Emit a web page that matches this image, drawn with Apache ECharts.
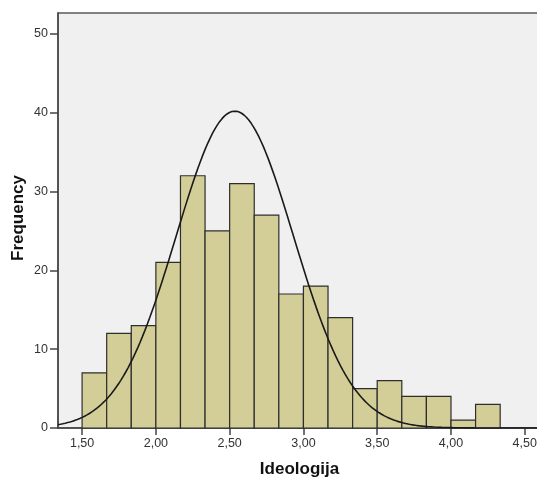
<!DOCTYPE html>
<html>
<head>
<meta charset="utf-8">
<script src="https://cdn.jsdelivr.net/npm/echarts@6/dist/echarts.min.js"></script>
<style>
  html, body { margin: 0; padding: 0; background: #ffffff; }
  #chart { width: 537px; height: 482px; }
</style>
</head>
<body>
<div id="chart"></div>
<script>
// Histogram of Ideologija scores (bin width 1/6, first bin starts at 1,50)
const binStart = 1.5;
const binWidth = 1 / 6;
const counts = [7, 12, 13, 21, 32, 25, 31, 27, 17, 18, 14, 5, 6, 4, 4, 1, 3];

// Fitted normal curve parameters
const fitMean = 2.535;
const fitSd = 0.397;
const sampleN = 240;

// Axis ticks
const xTicks = [1.5, 2.0, 2.5, 3.0, 3.5, 4.0, 4.5];
const yTicks = [0, 10, 20, 30, 40, 50];

const xMin = 1.3367;
const xMax = 4.61;
const yMax = 52.65;

const bars = counts.map((c, i) => [binStart + i * binWidth, binStart + (i + 1) * binWidth, c]);

// normal density scaled to the histogram's frequency axis
const curve = [];
const steps = 200;
for (let k = 0; k <= steps; k++) {
  const x = xMin + (xMax - xMin) * k / steps;
  const z = (x - fitMean) / fitSd;
  const y = sampleN * binWidth * Math.exp(-0.5 * z * z) / (fitSd * Math.sqrt(2 * Math.PI));
  curve.push([x, y]);
}

const fmt = v => v.toFixed(2).replace('.', ',');
const font = '"Liberation Sans", Arial, sans-serif';

const chart = echarts.init(document.getElementById('chart'), null, { renderer: 'canvas' });
chart.setOption({
  animation: false,
  backgroundColor: '#ffffff',
  grid: {
    left: 58, top: 13, right: -4, bottom: 54,
    containLabel: false,
    outerBoundsMode: 'none',
    show: true,
    backgroundColor: '#F0F0F0',
    borderColor: '#5a5a5a',
    borderWidth: 1.5
  },
  // vertical axis title
  graphic: [{
    type: 'text',
    x: 18,
    y: 218,
    rotation: Math.PI / 2,
    style: {
      text: 'Frequency',
      font: 'bold 17px "Liberation Sans", Arial, sans-serif',
      fill: '#111',
      align: 'center',
      verticalAlign: 'middle'
    }
  }],
  xAxis: {
    type: 'value',
    min: xMin,
    max: xMax,
    name: 'Ideologija',
    nameLocation: 'middle',
    nameGap: 33,
    nameTextStyle: { fontFamily: font, fontWeight: 'bold', fontSize: 17, color: '#111' },
    splitLine: { show: false },
    axisLine: { show: true, onZero: false, lineStyle: { color: '#444', width: 1.5 } },
    axisTick: { show: true, inside: false, length: 7, customValues: xTicks, lineStyle: { color: '#444', width: 1.5 } },
    axisLabel: {
      customValues: xTicks,
      formatter: v => fmt(v),
      fontFamily: font, fontSize: 12.5, color: '#333', margin: 9
    }
  },
  yAxis: {
    type: 'value',
    min: 0,
    max: yMax,
    splitLine: { show: false },
    axisLine: { show: true, onZero: false, lineStyle: { color: '#444', width: 1.5 } },
    axisTick: { show: true, inside: false, length: 8, customValues: yTicks, lineStyle: { color: '#444', width: 1.5 } },
    axisLabel: {
      customValues: yTicks,
      fontFamily: font, fontSize: 12.5, color: '#333', margin: 10
    }
  },
  series: [
    {
      type: 'custom',
      data: bars,
      renderItem: (params, api) => {
        const p0 = api.coord([api.value(0), api.value(2)]);
        const p1 = api.coord([api.value(1), 0]);
        return {
          type: 'rect',
          shape: { x: p0[0], y: p0[1], width: p1[0] - p0[0], height: p1[1] - p0[1] },
          style: { fill: '#D3CE97', stroke: '#2e2e2e', lineWidth: 1.2 }
        };
      },
      z: 2
    },
    {
      type: 'line',
      data: curve,
      showSymbol: false,
      smooth: false,
      lineStyle: { color: '#1a1a1a', width: 1.6 },
      clip: true,
      z: 3
    }
  ]
});
</script>
</body>
</html>
